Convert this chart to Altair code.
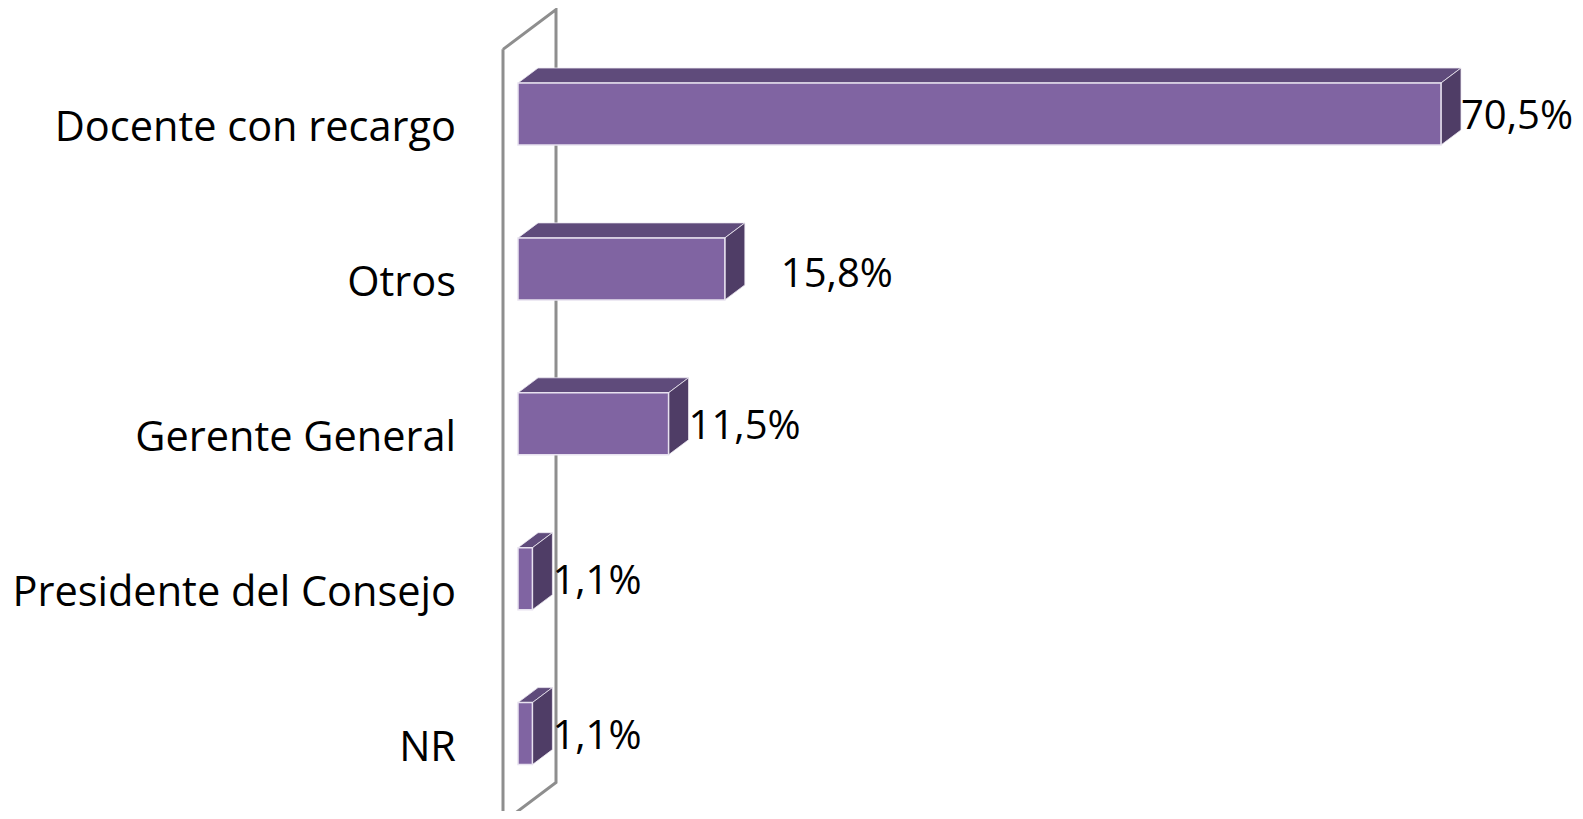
import altair as alt
import pandas as pd

# ---- data ----
categories = ["Docente con recargo", "Otros", "Gerente General", "Presidente del Consejo", "NR"]
values = [70.5, 15.8, 11.5, 1.1, 1.1]
value_labels = ["70,5%", "15,8%", "11,5%", "1,1%", "1,1%"]

# ---- styling / layout constants ----
FRONT = "#8064A2"
TOP = "#5F4B7B"
SIDE = "#4F3D66"
WALL = "#8E8E8E"
FONT = "Open Sans"
FS_CAT = 41.5
FS_VAL = 40

W, H = 1567, 803
X0PX = 510.0            # pixel of value 0 inside the view
KX = 923.0 / 70.5       # pixels per percentage point
Y0PX = 106.0            # pixel of first row centre
KY = 154.9              # pixels per row
x_dom = [-X0PX / KX, (W - X0PX) / KX]
y_dom = [-Y0PX / KY, (H - Y0PX) / KY]

DX = 20.0 / KX          # 3-D depth, x part (data units)
DY = -15.0 / KY         # 3-D depth, y part (row units, negative = up)
HALF = 31.0 / KY        # half height of front face

xs = alt.Scale(domain=x_dom, nice=False, zero=False)
ys = alt.Scale(domain=y_dom, nice=False, zero=False, reverse=True)

# front faces
front = pd.DataFrame({
    "cat": categories,
    "x0": [0.0] * len(values),
    "x1": values,
    "ya": [i - HALF for i in range(len(values))],
    "yb": [i + HALF for i in range(len(values))],
    "yc": list(range(len(values))),
    "xe": [v + DX for v in values],
    "lab": value_labels,
})

# top faces (parallelograms) as areas
top_rows = []
for i, (c, v) in enumerate(zip(categories, values)):
    yt = i - HALF
    def fe(x, v=v, yt=yt):
        return yt if x <= v else yt + DY * (x - v) / DX
    def be(x, yt=yt):
        return yt + DY * min(x, DX) / DX
    for b in sorted({0.0, min(v, DX), max(v, DX), v + DX}):
        top_rows.append({"cat": c, "x": b, "ya": fe(b), "yb": be(b)})
top = pd.DataFrame(top_rows)

# side faces
side_rows = []
for i, (c, v) in enumerate(zip(categories, values)):
    side_rows.append({"cat": c, "x": v, "ya": i - HALF, "yb": i + HALF})
    side_rows.append({"cat": c, "x": v + DX, "ya": i - HALF + DY, "yb": i + HALF + DY})
side = pd.DataFrame(side_rows)

# back wall outline
n = len(values)
fx, fy = -0.75 * DX, -0.75 * DY
bx, by = 1.9 * DX, 1.9 * DY
wall = pd.DataFrame({
    "k": [0, 1, 2, 3, 4],
    "x": [fx, bx, bx, fx, fx],
    "y": [-0.49 + fy, -0.49 + by, n - 0.5 + by, n - 0.5 + fy, -0.49 + fy],
})

wall_l = alt.Chart(wall).mark_line(color=WALL, strokeWidth=3).encode(
    x=alt.X("x:Q", scale=xs, axis=None),
    y=alt.Y("y:Q", scale=ys, axis=None),
    order="k:Q",
)

top_l = alt.Chart(top).mark_area(color=TOP, orient="vertical", stroke="#EEEAF3", strokeWidth=0.8).encode(
    x=alt.X("x:Q", scale=xs, axis=None),
    y=alt.Y("ya:Q", scale=ys, axis=None, stack=None),
    y2="yb:Q",
    detail="cat:N",
)

side_l = alt.Chart(side).mark_area(color=SIDE, orient="vertical", stroke="#EEEAF3", strokeWidth=0.8).encode(
    x=alt.X("x:Q", scale=xs, axis=None),
    y=alt.Y("ya:Q", scale=ys, axis=None, stack=None),
    y2="yb:Q",
    detail="cat:N",
)

front_l = alt.Chart(front).mark_rect(color=FRONT, stroke="#E8E2F0", strokeWidth=1.5).encode(
    x=alt.X("x0:Q", scale=xs, axis=None),
    x2="x1:Q",
    y=alt.Y("ya:Q", scale=ys, axis=None),
    y2="yb:Q",
)

cat_l = alt.Chart(front).mark_text(
    align="right", baseline="middle", dx=-62, dy=15, font=FONT, fontSize=FS_CAT, color="black"
).encode(
    x=alt.X("x0:Q", scale=xs, axis=None),
    y=alt.Y("yc:Q", scale=ys, axis=None),
    text="cat:N",
)

val_l = alt.Chart(front).transform_filter(alt.datum.cat != "Otros").mark_text(
    align="left", baseline="middle", dx=0, dy=3, font=FONT, fontSize=FS_VAL, color="black"
).encode(
    x=alt.X("xe:Q", scale=xs, axis=None),
    y=alt.Y("yc:Q", scale=ys, axis=None),
    text="lab:N",
)

val_o = alt.Chart(front).transform_filter(alt.datum.cat == "Otros").mark_text(
    align="left", baseline="middle", dx=36, dy=6, font=FONT, fontSize=FS_VAL, color="black"
).encode(
    x=alt.X("xe:Q", scale=xs, axis=None),
    y=alt.Y("yc:Q", scale=ys, axis=None),
    text="lab:N",
)

chart = alt.layer(wall_l, top_l, side_l, front_l, cat_l, val_l, val_o).properties(
    width=W, height=H, autosize=alt.AutoSizeParams(type="none"), padding=0,
    background="white",
).configure_view(stroke=None)

chart.save("out.html", embed_options={"renderer": "svg", "actions": False})
